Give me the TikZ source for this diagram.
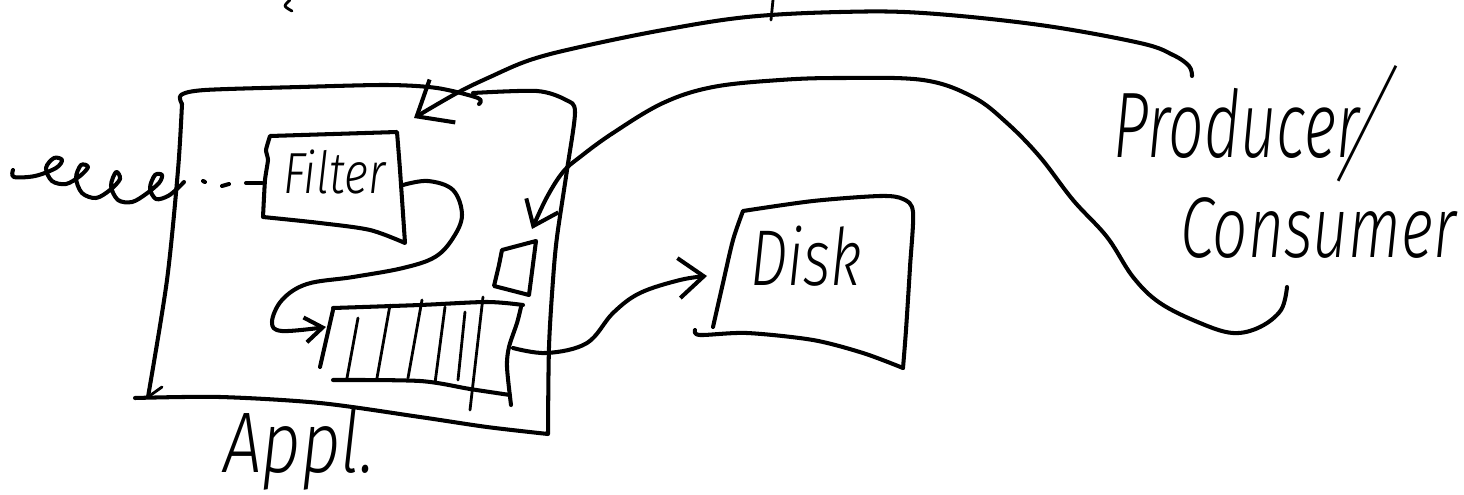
\documentclass[tikz,border=0pt]{standalone}
\usepackage{fontspec}
\setmainfont{Fira Sans}[UprightFont={* Light}, ItalicFont={* Light Italic}]
\IfFontExistsTF{Fira Sans Thin}{\newfontfamily\thinhand{Fira Sans Thin}}{\newfontfamily\thinhand{Fira Sans Light}}
\usetikzlibrary{arrows.meta}

\begin{document}
\begin{tikzpicture}[x=0.02cm, y=-0.02cm,
  pen/.style={line width=2.3pt, line cap=round, line join=round},
  fine/.style={line width=1.6pt, line cap=round, line join=round},
  hand/.style={anchor=base west, inner sep=0pt, font=\itshape\fontsize{#1}{#1}\selectfont},
  bigtip/.style={-{Straight Barb[length=5mm, width=8mm]}},
  smalltip/.style={-{Straight Barb[length=3.5mm, width=5mm]}}
]
\useasboundingbox (0,0) rectangle (1464,494);

\draw[fine] plot[smooth] coordinates {(290,0) (285,6) (292,11)};
\draw[fine] (773,0) -- (771,20);

\draw[pen] plot[smooth, tension=0.5] coordinates {(182,104) (181,95) (205,90) (300,87) (387,85) (437,88) (478,98) (479,104)};
\draw[pen] plot[smooth, tension=0.5] coordinates {(473,93) (537,91) (566,100) (575,112) (567,170) (557,237) (553,280) (549,347) (548,434)}
  -- plot[smooth, tension=0.5] coordinates {(548,434) (487,427) (420,417) (320,403) (220,397) (135,398)};
\draw[pen] plot[smooth, tension=0.5] coordinates {(182,104) (178,170) (167,280) (148,397)};
\draw[fine] (148,397) -- (162,387);
\node[hand=49, xscale=0.8] (appl) at (223,472) {Appl.};

\draw[pen] plot[smooth, tension=0.3] coordinates {(263,217) (265,180) (268,160) (266,150) (270,136)} -- (397,132)
  -- plot[smooth, tension=0.4] coordinates {(397,132) (400,170) (405,243)}
  -- plot[smooth, tension=0.5] coordinates {(405,243) (370,230) (320,223) (263,217)};
\node[hand=33, xscale=0.8] (filter) at (283,193) {Filter};

\draw[pen] plot[smooth, tension=0.55] coordinates {(13,170) (14,177) (35,176) (56,168) (62,160) (54,158) (46,168) (52,181) (66,184)
  (80,176) (88,167) (81,165) (76,178) (82,193) (96,198) (110,190) (120,179) (116,172) (111,186) (118,200) (132,202)
  (146,194) (159,183) (162,175) (155,175) (150,188) (156,199) (168,196) (178,188) (184,182)};
\draw[pen] (203,181) -- (205,182);
\draw[pen] (222,186) -- (229,184);
\draw[pen] (246,183) -- (262,183);

\draw[pen, smalltip] plot[smooth, tension=0.6] coordinates {(403,185) (428,181) (453,190) (462,215) (453,238) (435,257) (403,268) (353,277) (307,284) (282,300) (272,322) (282,331) (326,327)};

\draw[pen] plot[smooth] coordinates {(333,308) (420,305) (487,302) (523,305)};
\draw[pen] (333,310) -- (320,367);
\draw[pen] plot[smooth] coordinates {(333,380) (420,381) (470,389) (510,395)};
\draw[pen] plot[smooth] coordinates {(521,307) (517,323) (509,347) (507,367) (511,405)};
\foreach \xt/\yt/\xb/\yb in {358/318/347/378, 390/305/377/378, 422/300/408/378, 445/307/435/383, 465/312/458/380, 483/297/470/410}
  { \draw[fine] (\xt,\yt) -- (\xb,\yb); }

\draw[pen] (502,250) -- (536,241) -- (529,295) -- (494,286) -- (499,265) -- cycle;

\draw[pen, bigtip] plot[smooth, tension=0.6] coordinates {(513,348) (547,353) (587,343) (613,313) (640,293) (680,280) (707,276)};

\draw[pen] plot[smooth, tension=0.5] coordinates {(713,327) (723,283) (733,240) (743,211)}
  -- plot[smooth, tension=0.5] coordinates {(743,211) (813,201) (880,196) (903,199) (913,212) (910,267) (906,330) (903,368)};
\draw[pen] plot[smooth, tension=0.5] coordinates {(695,330) (700,335) (747,333) (813,340) (863,353) (903,368)};
\node[hand=45, xscale=0.75] (disk) at (750,285) {Disk};

\draw[pen, -{Straight Barb[length=6mm, width=10mm]}] plot[smooth, tension=0.6] coordinates {(1192,76) (1189,66) (1173,55) (1140,43) (1040,25) (923,13) (840,12) (747,17) (663,30) (580,47) (530,60) (490,77) (457,93) (414,118)};
\draw[pen, -{Straight Barb[length=4.5mm, width=7mm]}] plot[smooth, tension=0.6] coordinates {(1287,287) (1281,310) (1260,327) (1233,333) (1200,323) (1160,303) (1133,277) (1107,237) (1073,200) (1040,157) (1007,123) (973,97) (923,80) (840,78) (780,80) (713,87) (663,103) (613,133) (580,157) (563,172) (547,197) (532,229)};

\node[hand=53, xscale=0.67] (producer) at (1113,157) {Producer};
\node[inner sep=0pt, rotate=-12, font=\thinhand\fontsize{80}{80}\selectfont] (slash) at (1368,124) {/};
\node[hand=49, xscale=0.72] (consumer) at (1180,257) {Consumer};
\end{tikzpicture}
\end{document}
